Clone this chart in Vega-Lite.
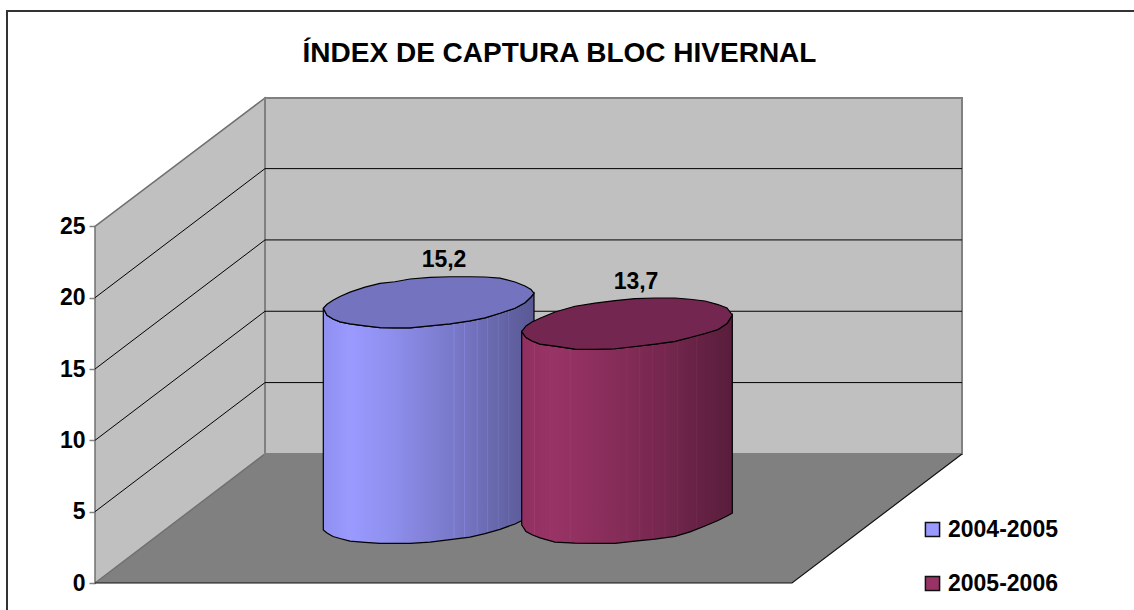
{
"$schema":"https://vega.github.io/schema/vega-lite/v6.json",
"width":867,"height":485,
"autosize":{"type":"none"},
"padding":{"left":95,"top":98,"right":172,"bottom":27},
"background":"white",
"title":{"text":"ÍNDEX DE CAPTURA BLOC HIVERNAL","font":"Liberation Sans","fontSize":28,"fontWeight":"bold","color":"#000000","anchor":"middle","frame":"group","offset":-61,"dx":31},
"config":{"view":{"stroke":null},"font":"Liberation Sans"},
"datasets":{
"frame":[{"x":-88,"y":-2},{"x":-88,"y":40.1},{"x":1039,"y":40.1}],
"side":[{"x":0,"top":25,"base":0},{"x":170,"top":34,"base":9.05}],
"back":[{"x":170,"top":34,"base":9.05},{"x":867,"top":34,"base":9.05}],
"floor":[{"x":0,"top":0,"base":0},{"x":170,"top":9.05,"base":0},{"x":697,"top":9.05,"base":0},{"x":867,"top":9.05,"base":9.05}],
"floorEdge":[{"x":0,"y":0},{"x":697,"y":0},{"x":867,"y":9.05}],
"grid":[
{"level":5,"x":0,"y":5},{"level":5,"x":170,"y":14.05},{"level":5,"x":867,"y":14.05},
{"level":10,"x":0,"y":10},{"level":10,"x":170,"y":19.05},{"level":10,"x":867,"y":19.05},
{"level":15,"x":0,"y":15},{"level":15,"x":170,"y":24.05},{"level":15,"x":867,"y":24.05},
{"level":20,"x":0,"y":20},{"level":20,"x":170,"y":29.05},{"level":20,"x":867,"y":29.05}],
"cyl":[
{"series":"2004-2005","x":228.3,"top":19.26,"low":19.26,"bottom":3.72},
{"series":"2004-2005","x":232,"top":19.54,"low":18.77,"bottom":3.51},
{"series":"2004-2005","x":238,"top":19.82,"low":18.51,"bottom":3.26},
{"series":"2004-2005","x":245,"top":20.08,"low":18.31,"bottom":3.12},
{"series":"2004-2005","x":255,"top":20.39,"low":18.16,"bottom":2.94},
{"series":"2004-2005","x":270,"top":20.74,"low":18.03,"bottom":2.85},
{"series":"2004-2005","x":285,"top":21.01,"low":17.9,"bottom":2.78},
{"series":"2004-2005","x":300,"top":21.12,"low":17.88,"bottom":2.78},
{"series":"2004-2005","x":315,"top":21.31,"low":17.88,"bottom":2.78},
{"series":"2004-2005","x":335,"top":21.42,"low":18.02,"bottom":2.87},
{"series":"2004-2005","x":355,"top":21.47,"low":18.16,"bottom":3.04},
{"series":"2004-2005","x":375,"top":21.47,"low":18.37,"bottom":3.22},
{"series":"2004-2005","x":390,"top":21.45,"low":18.59,"bottom":3.46},
{"series":"2004-2005","x":405,"top":21.37,"low":18.91,"bottom":3.76},
{"series":"2004-2005","x":420,"top":21.1,"low":19.26,"bottom":4.14},
{"series":"2004-2005","x":430,"top":20.82,"low":19.65,"bottom":4.49},
{"series":"2004-2005","x":436,"top":20.58,"low":20.05,"bottom":4.7},
{"series":"2004-2005","x":439,"top":20.31,"low":20.31,"bottom":4.84},
{"series":"2005-2006","x":426.7,"top":17.62,"low":17.62,"bottom":4.07},
{"series":"2005-2006","x":431,"top":18.02,"low":17.21,"bottom":3.61},
{"series":"2005-2006","x":437,"top":18.3,"low":16.96,"bottom":3.38},
{"series":"2005-2006","x":445,"top":18.56,"low":16.75,"bottom":3.16},
{"series":"2005-2006","x":460,"top":19,"low":16.6,"bottom":2.87},
{"series":"2005-2006","x":480,"top":19.4,"low":16.4,"bottom":2.79},
{"series":"2005-2006","x":500,"top":19.62,"low":16.38,"bottom":2.78},
{"series":"2005-2006","x":520,"top":19.8,"low":16.42,"bottom":2.78},
{"series":"2005-2006","x":540,"top":19.94,"low":16.58,"bottom":2.94},
{"series":"2005-2006","x":560,"top":19.98,"low":16.74,"bottom":3.08},
{"series":"2005-2006","x":580,"top":19.98,"low":16.94,"bottom":3.27},
{"series":"2005-2006","x":595,"top":19.89,"low":17.21,"bottom":3.58},
{"series":"2005-2006","x":610,"top":19.77,"low":17.49,"bottom":4},
{"series":"2005-2006","x":623,"top":19.52,"low":17.77,"bottom":4.38},
{"series":"2005-2006","x":632,"top":19.28,"low":18.19,"bottom":4.7},
{"series":"2005-2006","x":637.3,"top":18.79,"low":18.79,"bottom":4.89}],
"labels":[{"series":"2004-2005","x":349,"at":22.64,"label":"15,2"},{"series":"2005-2006","x":541,"at":21.12,"label":"13,7"}]
},
"encoding":{
"x":{"field":"x","type":"quantitative","scale":{"domain":[0,867],"nice":false,"zero":false},"axis":null}
},
"layer":[
{"data":{"name":"frame"},"mark":{"type":"line","color":"#333333","strokeWidth":2,"clip":false},
 "encoding":{"x":{"field":"x","type":"quantitative","sort":null},"y":{"field":"y","type":"quantitative","scale":{"domain":[0,34],"nice":false},
 "axis":{"values":[0,5,10,15,20,25],"title":null,"grid":false,"domain":false,"tickColor":"#808080","tickSize":6,"tickWidth":1.5,"labelPadding":4,"labelFont":"Liberation Sans","labelFontSize":23,"labelFontWeight":"bold","labelColor":"#000000","labelOverlap":false}},"order":{"field":"y","type":"quantitative"}}},
{"data":{"name":"floor"},"mark":{"type":"area","fill":"#808080"},
 "encoding":{"y":{"field":"top","type":"quantitative","stack":null},"y2":{"field":"base"}}},
{"data":{"name":"side"},"mark":{"type":"area","fill":"#c0c0c0","stroke":"#707070","strokeWidth":1.5},
 "encoding":{"y":{"field":"top","type":"quantitative","stack":null},"y2":{"field":"base"}}},
{"data":{"name":"back"},"mark":{"type":"area","fill":"#c0c0c0","stroke":"#808080","strokeWidth":2},
 "encoding":{"y":{"field":"top","type":"quantitative","stack":null},"y2":{"field":"base"}}},
{"data":{"name":"grid"},"mark":{"type":"line","color":"#000000","strokeWidth":1},
 "encoding":{"y":{"field":"y","type":"quantitative"},"detail":{"field":"level"}}},
{"data":{"name":"floorEdge"},"mark":{"type":"line","color":"#111111","strokeWidth":1.2},
 "encoding":{"y":{"field":"y","type":"quantitative"}}},
{"data":{"name":"cyl"},"transform":[{"filter":"datum.series==='2004-2005'"}],"mark":{"type":"area"},
 "encoding":{"y":{"field":"low","type":"quantitative","stack":null},"y2":{"field":"bottom"},
 "color":{"field":"series","type":"nominal","scale":{"domain":["2004-2005","2005-2006"],"range":["#9999ff","#993366"]},
 "legend":{"title":null,"orient":"none","legendX":826,"legendY":420,"symbolType":"square","symbolSize":200,"symbolStrokeColor":"#111111","symbolStrokeWidth":1.5,"symbolOpacity":1,"labelFont":"Liberation Sans","labelFontSize":23,"labelFontWeight":"bold","labelColor":"#000000","labelOffset":4,"rowPadding":30,"padding":0}}}},
{"data":{"name":"cyl"},"transform":[{"filter":"datum.series==='2004-2005'"}],
 "mark":{"type":"area","stroke":"#000000","strokeWidth":1.2,"fill":{"gradient":"linear","x1":0,"y1":0,"x2":1,"y2":0,"stops":[
{"offset":0,"color":"rgba(0,0,0,0.06)"},{"offset":0.126,"color":"rgba(0,0,0,0)"},{"offset":0.13,"color":"rgba(255,255,255,0.07)"},{"offset":0.134,"color":"rgba(0,0,0,0)"},
{"offset":0.3,"color":"rgba(0,0,0,0.06)"},{"offset":0.616,"color":"rgba(0,0,0,0.21)"},{"offset":0.62,"color":"rgba(0,0,0,0.12)"},{"offset":0.624,"color":"rgba(0,0,0,0.21)"},
{"offset":0.666,"color":"rgba(0,0,0,0.24)"},{"offset":0.67,"color":"rgba(0,0,0,0.15)"},{"offset":0.674,"color":"rgba(0,0,0,0.24)"},
{"offset":0.726,"color":"rgba(0,0,0,0.27)"},{"offset":0.73,"color":"rgba(0,0,0,0.18)"},{"offset":0.734,"color":"rgba(0,0,0,0.27)"},
{"offset":0.776,"color":"rgba(0,0,0,0.3)"},{"offset":0.78,"color":"rgba(0,0,0,0.21)"},{"offset":0.784,"color":"rgba(0,0,0,0.3)"},
{"offset":0.826,"color":"rgba(0,0,0,0.33)"},{"offset":0.83,"color":"rgba(0,0,0,0.25)"},{"offset":0.834,"color":"rgba(0,0,0,0.33)"},
{"offset":0.876,"color":"rgba(0,0,0,0.36)"},{"offset":0.88,"color":"rgba(0,0,0,0.29)"},{"offset":0.884,"color":"rgba(0,0,0,0.36)"},
{"offset":1,"color":"rgba(0,0,0,0.42)"}]}},
 "encoding":{"y":{"field":"low","type":"quantitative","stack":null},"y2":{"field":"bottom"}}},
{"data":{"name":"cyl"},"transform":[{"filter":"datum.series==='2004-2005'"}],"mark":{"type":"area","fill":"#7373bf","stroke":"#000000","strokeWidth":1.2},
 "encoding":{"y":{"field":"top","type":"quantitative","stack":null},"y2":{"field":"low"}}},
{"data":{"name":"cyl"},"transform":[{"filter":"datum.series==='2005-2006'"}],"mark":{"type":"area"},
 "encoding":{"y":{"field":"low","type":"quantitative","stack":null},"y2":{"field":"bottom"},"color":{"field":"series","type":"nominal"}}},
{"data":{"name":"cyl"},"transform":[{"filter":"datum.series==='2005-2006'"}],
 "mark":{"type":"area","stroke":"#000000","strokeWidth":1.2,"fill":{"gradient":"linear","x1":0,"y1":0,"x2":1,"y2":0,"stops":[
{"offset":0,"color":"rgba(0,0,0,0.06)"},{"offset":0.056,"color":"rgba(0,0,0,0.04)"},{"offset":0.06,"color":"rgba(255,255,255,0.07)"},{"offset":0.064,"color":"rgba(0,0,0,0.04)"},
{"offset":0.131,"color":"rgba(0,0,0,0)"},{"offset":0.135,"color":"rgba(255,255,255,0.07)"},{"offset":0.139,"color":"rgba(0,0,0,0)"},
{"offset":0.226,"color":"rgba(0,0,0,0.03)"},{"offset":0.23,"color":"rgba(255,255,255,0.07)"},{"offset":0.234,"color":"rgba(0,0,0,0.03)"},
{"offset":0.496,"color":"rgba(0,0,0,0.15)"},{"offset":0.5,"color":"rgba(0,0,0,0.07)"},{"offset":0.504,"color":"rgba(0,0,0,0.15)"},
{"offset":0.556,"color":"rgba(0,0,0,0.18)"},{"offset":0.56,"color":"rgba(0,0,0,0.1)"},{"offset":0.564,"color":"rgba(0,0,0,0.18)"},
{"offset":0.616,"color":"rgba(0,0,0,0.21)"},{"offset":0.62,"color":"rgba(0,0,0,0.13)"},{"offset":0.624,"color":"rgba(0,0,0,0.21)"},
{"offset":0.676,"color":"rgba(0,0,0,0.24)"},{"offset":0.68,"color":"rgba(0,0,0,0.16)"},{"offset":0.684,"color":"rgba(0,0,0,0.24)"},
{"offset":0.736,"color":"rgba(0,0,0,0.27)"},{"offset":0.74,"color":"rgba(0,0,0,0.19)"},{"offset":0.744,"color":"rgba(0,0,0,0.27)"},
{"offset":0.826,"color":"rgba(0,0,0,0.33)"},{"offset":0.83,"color":"rgba(0,0,0,0.26)"},{"offset":0.834,"color":"rgba(0,0,0,0.33)"},
{"offset":1,"color":"rgba(0,0,0,0.42)"}]}},
 "encoding":{"y":{"field":"low","type":"quantitative","stack":null},"y2":{"field":"bottom"}}},
{"data":{"name":"cyl"},"transform":[{"filter":"datum.series==='2005-2006'"}],"mark":{"type":"area","fill":"#732650","stroke":"#000000","strokeWidth":1.2},
 "encoding":{"y":{"field":"top","type":"quantitative","stack":null},"y2":{"field":"low"}}},
{"data":{"name":"labels"},"mark":{"type":"text","font":"Liberation Sans","fontSize":23,"fontWeight":"bold","color":"#000000"},
 "encoding":{"y":{"field":"at","type":"quantitative"},"text":{"field":"label"}}}
]
}
